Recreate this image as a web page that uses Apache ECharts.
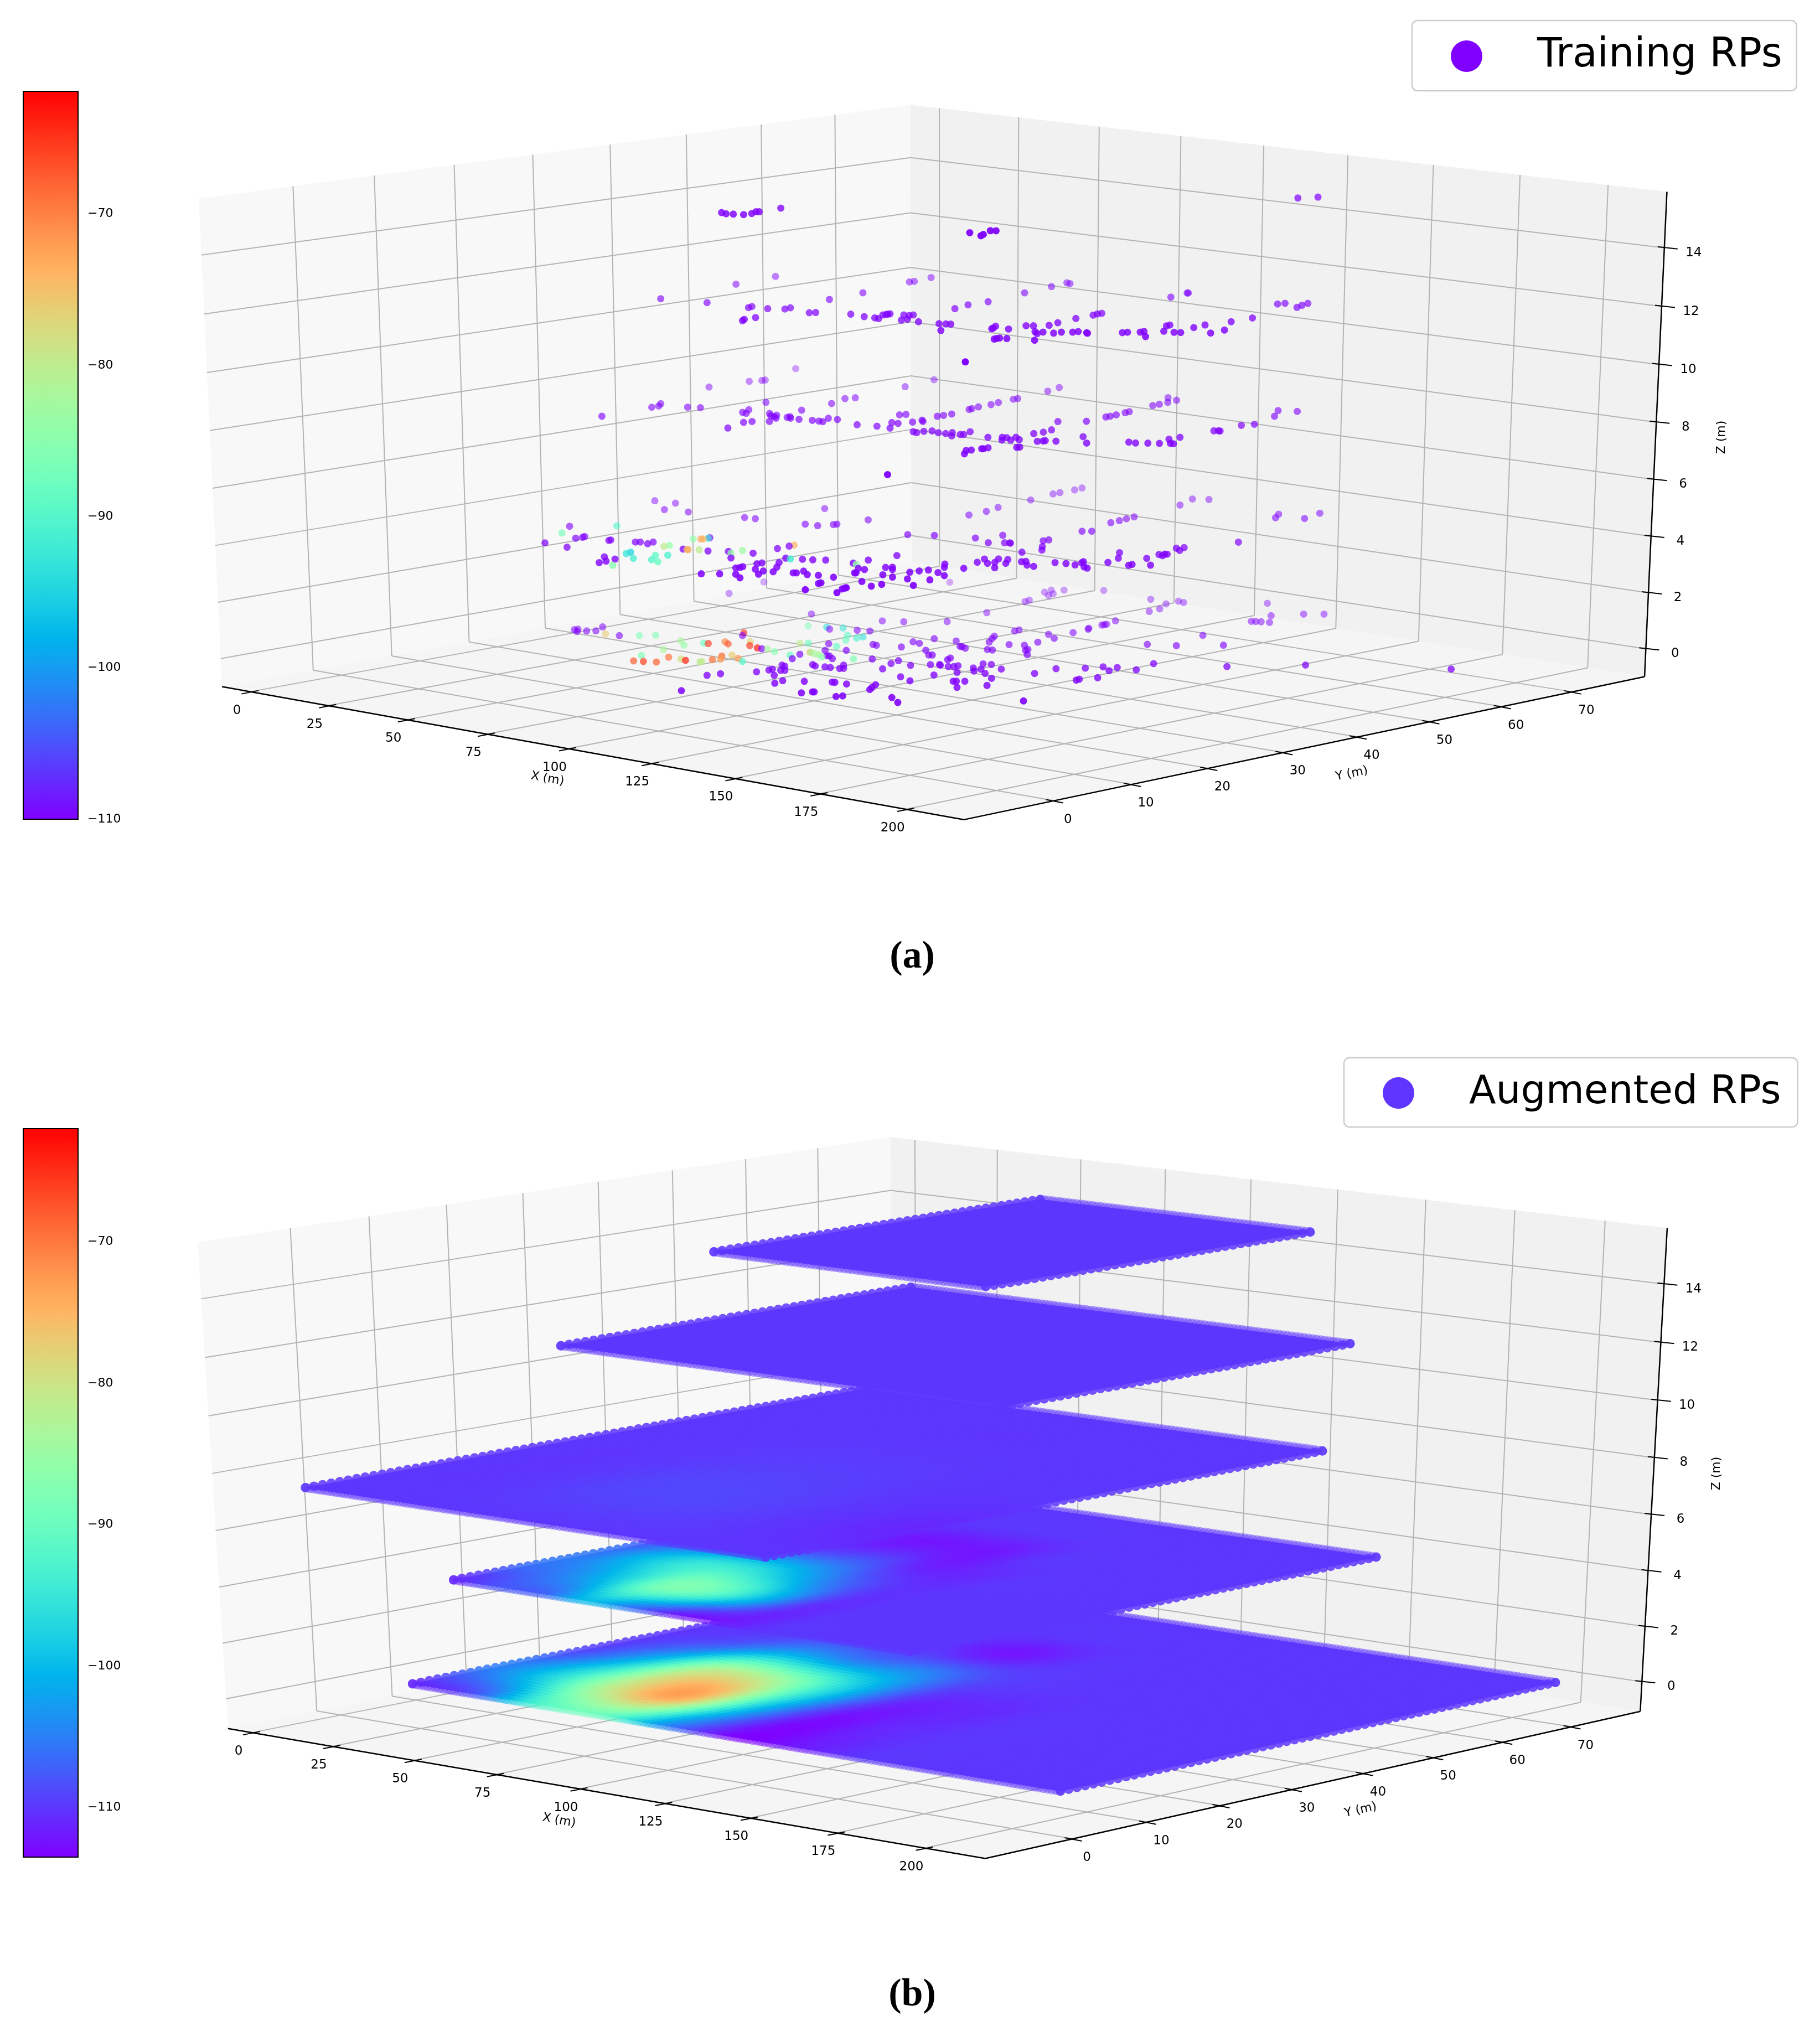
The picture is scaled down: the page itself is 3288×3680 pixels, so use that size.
<!DOCTYPE html>
<html>
<head>
<meta charset="utf-8">
<title>Training and augmented RPs</title>
<script src="https://cdn.jsdelivr.net/npm/echarts@6/dist/echarts.min.js"></script>
<style>
  html, body { margin: 0; background: #fff; }
  #chart { width: 3288px; height: 3680px; }
</style>
</head>
<body>
<div id="chart"></div>
<script>
// Axis ticks (metres)
var xTicks = [0, 25, 50, 75, 100, 125, 150, 175, 200];
var yTicks = [0, 10, 20, 30, 40, 50, 60, 70];
var zTicks = [0, 2, 4, 6, 8, 10, 12, 14];
var colorTicks = [-110, -100, -90, -80, -70];

// Floor heights and footprints of the augmented grid (metres)
var floorHeights = [0, 3.7, 7.4, 11.1, 14.8];
var floorX = [[11.1, 202.9], [17.5, 153.3], [5.0, 141.2], [13.2, 143.3], [52.5, 131.2]];
var floorY = [[5.0, 74.7], [8.3, 73.1], [-5.0, 70.9], [25.4, 73.4], [28.7, 73.3]];

// Training RPs per floor: [X, Y, RSSI]. No third value means -110 dBm
var trainFloor4 = [[52.4,28.8],[54.5,28.5],[56.0,28.8],[58.2,29.2],[58.3,30.2],[57.0,31.3],[57.5,31.5],[56.8,34.6],[114.5,34.2],[119.6,33.4],[118.5,34.2],[115.6,36.4],[116.6,36.7],[129.3,71.5],[131.6,73.2]];
var trainFloor3 = [[18.8,34.7],[30.7,35.8],[15.0,46.2],[12.8,52.4],[42.9,36.1],[42.3,36.8],[47.2,36.8],[50.4,37.7],[50.0,38.6],[58.4,37.5],
  [59.2,38.0],[47.3,44.9],[45.6,50.1],[56.0,29.8],[54.9,30.5],[54.8,32.0],[66.7,39.4],[71.5,39.1],[74.5,39.2],[75.9,39.1],
  [72.8,41.0],[72.8,41.4],[72.7,41.7],[72.7,42.0],[76.2,42.3],[77.6,42.4],[77.7,42.9],[81.2,39.8],[81.2,40.6],[85.7,40.1],
  [41.4,58.2],[41.5,58.8],[40.1,61.7],[91.0,40.5],[92.4,40.8],[93.4,41.0],[98.4,37.5],[77.8,48.4],[75.9,51.0],[75.9,53.7],
  [104.8,41.4],[104.3,41.8],[102.8,42.8],[107.8,42.3],[115.7,36.9],[115.5,37.3],[115.5,37.7],[117.2,37.9],[133.9,25.1],[72.4,60.2],
  [70.1,64.9],[68.6,67.7],[70.0,67.5],[107.2,44.9],[108.5,45.3],[110.5,46.5],[109.3,48.2],[107.8,51.3],[107.2,53.9],[106.7,54.7],
  [106.7,55.3],[114.8,42.7],[117.0,42.0],[116.5,43.0],[119.2,43.2],[119.5,44.1],[121.3,44.8],[121.6,45.4],[124.1,45.4],[124.8,45.2],
  [123.4,38.8],[129.8,47.6],[130.2,48.1],[132.2,48.9],[132.0,49.5],[137.5,47.2],[135.0,50.8],[130.1,53.4],[129.8,54.0],[137.8,50.9],
  [139.1,51.2],[136.2,54.3],[135.4,56.2],[144.4,52.8],[143.7,55.0],[136.4,59.3],[136.0,62.4],[101.1,67.3],[99.5,70.3],[99.6,70.4],
  [125.9,70.6],[126.4,71.4],[132.5,70.2],[131.2,71.5],[130.2,72.8]];
var trainFloor2 = [[21.9,25.5],[20.9,32.4],[20.7,33.4],[18.7,34.5],[26.7,34.7],[29.3,35.3],[9.3,44.8],[10.0,49.9],[11.2,51.1],[11.3,51.5],
  [4.3,58.6],[34.7,41.7],[41.1,35.9],[39.5,37.4],[42.7,35.7],[54.6,28.3],[51.4,31.7],[51.9,32.6],[46.7,37.1],[49.2,36.2],
  [54.7,33.7],[50.7,36.0],[49.6,36.8],[52.5,35.5],[53.6,36.5],[53.3,37.0],[54.9,36.4],[57.5,36.4],[48.7,40.5],[60.7,36.8],
  [62.5,36.9],[63.7,36.9],[61.2,38.7],[46.8,45.3],[64.0,38.7],[44.0,48.3],[44.9,49.3],[72.4,37.7],[77.1,38.3],[81.1,38.3],
  [75.9,40.8],[77.8,40.8],[69.5,44.6],[70.1,45.2],[41.8,57.4],[39.4,62.4],[78.8,42.3],[79.9,43.2],[78.5,43.7],[77.2,46.3],
  [77.3,47.1],[77.3,48.2],[75.6,51.3],[75.3,51.8],[74.6,53.0],[74.4,54.8],[73.5,56.2],[72.7,58.6],[72.7,59.2],[88.4,38.2],
  [89.9,38.0],[89.8,39.0],[90.7,39.7],[93.5,39.3],[95.5,39.4],[95.7,40.2],[98.7,38.8],[98.8,39.9],[99.4,40.1],[97.7,41.7],
  [106.0,40.4],[108.3,41.3],[110.9,40.1],[109.4,41.4],[112.4,40.6],[110.6,42.1],[113.4,41.3],[118.0,32.0],[115.1,33.5],[115.5,34.0],
  [115.9,35.2],[116.2,35.3],[116.0,36.0],[120.3,37.9],[120.5,38.2],[125.1,18.9],[70.3,64.4],[68.5,66.8],[102.2,51.5],[106.6,53.4],
  [105.6,56.5],[105.6,57.1],[105.2,58.1],[104.6,59.6],[104.3,60.3],[102.2,64.5],[102.0,65.5],[97.0,69.0],[101.5,66.9],[100.9,68.4],
  [127.8,70.1],[132.7,67.3],[131.8,70.9],[135.9,61.2],[137.0,62.5],[136.6,57.1],[137.3,57.4],[137.8,57.4],[109.9,44.8],[110.1,46.0],
  [109.2,47.5],[120.9,46.5],[127.5,44.0],[117.9,41.7],[118.5,42.2],[118.5,42.5],[120.8,42.9],[133.4,47.0],[135.4,47.0],[137.5,47.7],
  [139.6,48.3],[137.2,50.7],[141.3,49.0],[142.2,49.0],[137.2,52.2]];
var trainFloor1 = [[33.8,13.0],[27.1,17.9,-87],[21.9,21.0],[41.5,12.7],[34.4,16.7],[34.6,17.5],[34.3,17.9],[41.9,17.9],[41.8,18.2],[29.3,24.1,-90],
  [61.1,8.8],[56.6,11.3],[60.8,9.8],[60.4,11.1],[65.8,8.6,-85],[57.1,13.9,-93],[56.5,14.7,-95],[62.7,12.5,-91],[47.8,18.9],[48.6,19.2],
  [51.4,19.0],[50.7,20.0],[66.9,13.1,-90],[63.5,15.0,-89],[69.8,12.7,-88],[65.4,15.8,-91],[56.5,19.0,-80],[56.5,19.7,-84],[62.2,19.1],[63.5,19.2,-73],
  [63.2,19.2,-76],[54.3,23.7,-84],[65.5,19.8,-80],[55.7,24.1,-73],[56.0,24.3,-74],[55.9,25.2],[56.1,24.9,-92],[68.0,19.9],[71.7,21.0],[73.7,20.5,-84],
  [73.2,22.2,-83],[78.2,18.6],[77.4,21.8],[42.5,35.4],[45.4,35.6],[58.9,36.5],[62.3,36.7],[47.2,44.1],[63.9,38.1],[64.1,38.5],
  [65.2,42.2],[11.1,36.6],[21.4,33.6],[17.0,36.9],[27.8,34.1],[85.5,38.7],[77.1,25.1],[76.7,26.8],[76.6,27.5,-74],[87.2,21.9],
  [88.6,21.9,-92],[90.9,22.5],[93.1,22.9],[95.4,23.6],[90.1,19.8],[93.9,17.9],[97.5,15.9],[87.6,18.0],[87.7,18.6],[92.3,15.8],
  [95.2,15.6],[97.3,14.1],[88.0,16.0],[88.3,15.5],[88.0,15.1],[93.7,12.7],[97.6,11.6],[87.7,10.8],[90.7,11.9],[101.7,16.7],
  [102.2,16.9],[101.8,18.0],[105.5,16.9],[107.9,17.3],[112.0,17.5],[115.2,14.2],[115.0,14.6],[118.5,11.1],[126.1,11.9],[123.7,13.6],
  [123.4,14.1],[123.3,14.3],[102.6,24.1],[104.2,23.8,-84],[102.3,26.2],[108.1,22.4],[110.2,22.3],[111.8,20.5],[111.6,20.4],[102.9,29.7],
  [111.7,24.4],[112.6,24.9],[114.7,24.0],[117.8,21.4],[121.4,21.1],[119.9,24.0],[125.4,21.3],[120.3,17.6],[125.9,16.4],[126.0,17.7],
  [132.0,19.2],[90.7,40.0],[77.4,50.5],[76.9,53.1],[75.1,55.5],[73.5,60.7],[71.5,64.7],[71.4,65.7],[71.3,67.8],[70.7,69.1],
  [99.8,41.5],[106.2,40.4],[101.8,44.3],[108.9,41.4],[109.8,41.7],[110.2,41.6],[120.2,38.7],[113.4,44.6],[113.5,45.3],[118.5,42.2],
  [121.5,40.8],[111.1,50.9],[112.7,51.5],[108.1,56.2],[107.6,57.6],[107.1,58.8],[106.6,60.1],[103.3,68.0],[99.7,71.4],[103.0,72.2],
  [128.2,70.3],[130.9,68.6],[146.6,56.1],[141.8,49.8],[144.3,49.1],[142.6,50.5],[136.5,44.5],[141.2,42.2],[145.9,43.9],[144.5,46.2],
  [146.2,45.9],[145.1,46.7],[145.6,46.8],[143.2,39.9],[149.1,40.0],[148.8,40.6],[152.5,41.4],[120.2,25.1],[120.9,26.0],[124.7,25.6],
  [128.4,24.8],[129.8,22.3],[118.3,29.3],[121.1,28.0],[125.1,28.8],[121.9,32.0],[120.2,33.7],[124.5,32.2],[124.9,33.0],[122.4,34.6],
  [124.5,34.9],[127.5,33.3],[129.6,30.9],[128.6,34.9],[129.0,35.3],[132.5,33.9],[134.7,33.8],[134.8,36.6],[137.4,36.9],[140.1,36.9],
  [139.2,38.2],[138.6,38.7],[143.2,36.7],[144.8,36.4],[136.4,70.1],[134.2,73.3]];
var trainFloor0 = [[10.1,51.5],[15.0,44.7],[47.9,41.9],[66.0,43.7],[70.4,44.7],[22.6,21.0],[22.8,21.4],[24.7,20.5],[25.8,21.3],[27.3,21.9],
  [24.8,23.8],[31.6,21.4,-76],[35.5,21.6],[38.7,22.9,-86],[41.2,24.0,-86],[50.1,23.6,-82],[54.7,22.1,-84],[55.2,19.2,-82],[56.8,15.7,-86],[60.4,13.2,-68],
  [62.5,13.6,-66],[65.1,14.2,-68],[62.9,16.7,-69],[66.5,16.8,-78],[68.4,16.6,-64],[72.2,16.9,-80],[72.0,17.2,-80],[72.2,18.5,-69],[73.1,19.2,-72],[70.6,20.4,-68],
  [71.4,21.4,-76],[75.2,20.6,-72],[78.7,19.7,-90],[56.1,24.1,-88],[57.3,24.2,-65],[58.5,25.9,-70],[60.9,25.3,-67],[53.7,30.4,-63],[55.9,29.3],[62.6,27.5,-77],
  [66.0,26.0,-65],[69.3,25.6,-63],[70.7,25.6],[71.8,25.9,-82],[75.4,25.3,-85],[80.9,25.0,-88],[81.8,25.9],[84.4,23.8],[72.2,30.0,-80],[73.4,30.6,-88],
  [58.1,37.1,-86],[62.3,37.8,-94],[64.6,37.2],[65.8,38.5,-93],[70.2,38.5],[73.0,39.0],[73.0,36.0,-89],[77.1,34.0,-88],[77.0,35.5,-91],[77.1,36.3,-93],
  [77.4,31.6],[81.0,31.1,-89],[81.7,27.3,-73],[81.9,27.3,-82],[83.8,27.0,-82],[85.3,26.9,-82],[87.6,26.3,-85],[82.6,28.9],[86.1,30.2],[87.6,27.0],
  [88.1,27.1],[90.9,26.3],[94.6,27.5,-86],[85.3,34.1],[86.6,34.0],[92.2,34.9],[89.6,37.6],[97.8,28.6],[84.9,12.5],[85.7,13.9],
  [93.8,5.5],[89.9,16.8],[90.4,18.2],[90.3,18.7],[95.8,16.6],[88.3,20.8],[89.6,20.6],[92.6,18.8],[93.2,19.1],[102.6,13.8],
  [101.7,15.2],[105.7,16.3],[114.9,12.0],[115.9,13.0],[116.2,13.1],[92.8,22.9],[94.5,22.5],[96.8,22.8],[98.2,22.9],[100.6,23.1],
  [98.3,24.6],[101.1,23.4],[110.9,17.7],[111.5,17.8],[114.8,17.9],[123.5,12.8],[124.1,13.4],[123.2,17.3],[121.8,18.2],[120.1,19.4],
  [107.9,25.6],[104.7,28.1],[103.5,29.6],[109.5,28.6],[117.5,23.8],[122.4,22.9],[133.3,15.8],[138.3,14.4],[42.1,63.4],[76.2,53.5],
  [77.5,47.5],[72.6,60.4],[72.1,61.2],[67.5,65.4],[66.7,66.7],[71.2,64.3],[70.4,65.3],[68.9,67.5],[76.0,69.9],[91.9,69.3],
  [98.6,68.4],[101.9,66.0],[102.4,64.3],[98.3,70.3],[100.3,70.1],[105.0,58.4],[106.5,56.5],[106.4,56.2],[106.4,55.9],[107.0,53.8],
  [107.7,53.4],[108.2,51.1],[105.6,48.9],[110.0,47.7],[96.8,48.8],[97.0,48.1],[90.4,40.1],[92.0,37.4],[96.0,40.6],[98.2,44.8],
  [99.8,43.8],[102.5,42.2],[101.3,38.8],[101.9,38.8],[103.8,38.4],[99.0,35.2],[103.6,33.6],[104.2,33.8],[109.7,33.8],[110.7,33.0],
  [108.5,39.3],[109.8,39.4],[107.9,42.5],[111.0,43.2],[110.6,45.2],[115.2,41.8],[115.6,41.3],[119.5,39.8],[112.1,30.1],[113.5,30.7],
  [114.2,30.5],[116.6,30.5],[117.6,30.8],[117.5,31.4],[121.9,31.5],[124.6,30.4],[124.2,31.5],[120.1,33.6],[121.9,33.9],[127.4,32.8],
  [122.9,28.9],[128.4,30.2],[121.4,26.5],[133.5,28.8],[129.7,25.4],[130.2,25.6],[131.6,26.1],[135.4,23.4],[138.7,25.9],[136.5,33.2],
  [136.0,36.3],[140.3,38.3],[142.1,39.9],[146.3,38.8],[145.0,40.5],[150.0,40.8],[147.7,44.2],[148.7,33.3],[148.5,33.8],[150.2,35.5],
  [162.1,47.6],[157.2,22.5],[130.5,51.2],[136.4,52.5],[132.0,58.2],[143.8,55.6],[128.1,66.8],[129.0,67.0],[130.2,67.2],[132.1,67.5],
  [126.6,70.3],[115.2,75.1],[130.7,73.0],[134.1,74.3],[173.7,53.0],[200.7,60.4]];
var trainFloors = [trainFloor0, trainFloor1, trainFloor2, trainFloor3, trainFloor4];

// Augmented RSSI, one row per Y step, one column per X step
var augFloor0 = [
  [-111, -108, -93, -90, -104, -113, -112, -110, -110, -110, -110],
  [-105, -96, -80, -74, -98, -112, -111, -110, -110, -110, -110],
  [-109, -100, -82, -83, -97, -110, -111, -110, -110, -110, -110],
  [-110, -108, -102, -104, -104, -109, -110, -110, -110, -110, -110],
  [-110, -110, -110, -110, -112, -110, -110, -110, -110, -110, -110],
  [-110, -110, -110, -110, -110, -110, -110, -110, -110, -110, -110],
  [-110, -110, -110, -110, -110, -110, -110, -110, -110, -110, -110]
];
var augFloor1 = [
  [-111, -108, -107, -100, -106, -112, -112, -110, -110, -110, -110],
  [-106, -104, -98, -88, -90, -100, -110, -110, -110, -110, -110],
  [-106, -100, -95, -95, -100, -106, -110, -110, -110, -110, -110],
  [-110, -110, -109, -108, -108, -111, -111, -110, -110, -110, -110],
  [-110, -110, -110, -112, -112, -112, -110, -110, -110, -110, -110],
  [-110, -110, -110, -110, -110, -110, -110, -110, -110, -110, -110],
  [-110, -110, -110, -110, -110, -110, -110, -110, -110, -110, -110]
];
var augFloor2 = [
  [-110, -110, -110, -110, -110, -110],
  [-110, -110, -109, -109, -110, -111],
  [-110, -110, -109.5, -109.5, -110, -110],
  [-110, -110, -110, -110, -110, -110],
  [-110, -110, -110, -110, -110, -110]
];
var augFloor3 = [[-110, -110], [-110, -110]];
var augFloor4 = [[-110, -110], [-110, -110]];
var augFloors = [augFloor0, augFloor1, augFloor2, augFloor3, augFloor4];

// Colour ranges of the two colour bars (dBm)
var rangeA = [-110, -61.9];
var rangeB = [-113.5, -62];

// The two 3D views: camera matrix (metres to picture) and axis limits
var viewA = {
  camera: [[5.3904201, 14.834724, -3.1399323, 614.81762], [0.61864193, -1.6239763, -52.592004, 1169.3036], [-0.00029815999, 0.0008077789, -0.0018384073, 1]],
  x: [-9.2, 216.5], y: [-11.4, 80.4], z: [-1, 15.9],
  xName: [989, 1407, -10], yName: [2442, 1398, 11.7], zName: [3110, 790, 90]
};
var viewB = {
  camera: [[5.6110442, 14.184836, -4.0320475, 612.57722], [0.17428945, -0.53472783, -56.668262, 3044.8467], [-0.00025850316, 0.00070584838, -0.0022933426, 1]],
  x: [-7.5, 217], y: [-11.6, 80.2], z: [-1.08, 15.9],
  xName: [1010, 3289, -10], yName: [2458, 3270, 12.8], zName: [3101, 2662, 90]
};

// Project a point in metres to the hidden picture axes
function project(view, X, Y, Z) {
  var P = view.camera;
  var w = P[2][0] * X + P[2][1] * Y + P[2][2] * Z + P[2][3];
  return [
    (P[0][0] * X + P[0][1] * Y + P[0][2] * Z + P[0][3]) / w,
    (P[1][0] * X + P[1][1] * Y + P[1][2] * Z + P[1][3]) / w,
    w
  ];
}

// matplotlib rainbow colormap
function rainbow(t) {
  t = Math.max(0, Math.min(1, t));
  var r = Math.min(1, Math.abs(2 * t - 0.5));
  var g = Math.sin(Math.PI * t);
  var b = Math.cos(Math.PI * t / 2);
  return [Math.round(r * 255), Math.round(g * 255), Math.round(b * 255)];
}
function rgba(c, a) {
  return 'rgba(' + c[0] + ',' + c[1] + ',' + c[2] + ',' + a + ')';
}
function rssiColor(v, range) {
  return rainbow((v - range[0]) / (range[1] - range[0]));
}

// Fainter with distance, like mplot3d depth shading
function depthAlpha(w) {
  return Math.min(1, 0.3 + 0.7 * (1.04 - w) / 0.081);
}

// Box, grid, axes, ticks and labels of one 3D view
function renderFrame(view) {
  return function (params, api) {
    var kids = [];
    function pt(X, Y, Z) {
      var p = project(view, X, Y, Z);
      return api.coord([p[0], p[1]]);
    }
    function pane(a, b, c, d, fill) {
      kids.push({ type: 'polygon', shape: { points: [a, b, c, d] }, style: { fill: fill } });
    }
    function seg(a, b, color, width) {
      kids.push({ type: 'line', shape: { x1: a[0], y1: a[1], x2: b[0], y2: b[1] }, style: { stroke: color, lineWidth: width } });
    }
    function label(text, at, rot, size) {
      kids.push({
        type: 'text', x: at[0], y: at[1], rotation: (rot || 0) * Math.PI / 180,
        style: { text: text, x: 0, y: 0, fill: '#000', font: size + 'px "DejaVu Sans"', textAlign: 'center', textVerticalAlign: 'middle', align: 'center', verticalAlign: 'middle' }
      });
    }
    var x0 = view.x[0], x1 = view.x[1], y0 = view.y[0], y1 = view.y[1], z0 = view.z[0], z1 = view.z[1];
    pane(pt(x0, y0, z0), pt(x0, y1, z0), pt(x0, y1, z1), pt(x0, y0, z1), '#f8f8f8');
    pane(pt(x0, y1, z0), pt(x1, y1, z0), pt(x1, y1, z1), pt(x0, y1, z1), '#f1f1f1');
    pane(pt(x0, y0, z0), pt(x1, y0, z0), pt(x1, y1, z0), pt(x0, y1, z0), '#f5f5f5');

    var gridColor = '#b4b4b4';
    xTicks.forEach(function (x) {
      seg(pt(x, y0, z0), pt(x, y1, z0), gridColor, 2);
      seg(pt(x, y1, z0), pt(x, y1, z1), gridColor, 2);
    });
    yTicks.forEach(function (y) {
      seg(pt(x0, y, z0), pt(x1, y, z0), gridColor, 2);
      seg(pt(x0, y, z0), pt(x0, y, z1), gridColor, 2);
    });
    zTicks.forEach(function (z) {
      seg(pt(x0, y0, z), pt(x0, y1, z), gridColor, 2);
      seg(pt(x0, y1, z), pt(x1, y1, z), gridColor, 2);
    });

    seg(pt(x0, y0, z0), pt(x1, y0, z0), '#000', 2.5);
    seg(pt(x1, y0, z0), pt(x1, y1, z0), '#000', 2.5);
    seg(pt(x1, y1, z0), pt(x1, y1, z1), '#000', 2.5);

    xTicks.forEach(function (x) {
      var p = pt(x, y0, z0);
      seg([p[0] - 16, p[1] + 4], [p[0] + 15, p[1] - 2], '#000', 2);
      label(String(x), [p[0] - 24, p[1] + 34], 0, 23);
    });
    yTicks.forEach(function (y) {
      var p = pt(x1, y, z0);
      seg([p[0] - 15, p[1] - 2], [p[0] + 16, p[1] + 4], '#000', 2);
      label(String(y), [p[0] + 25, p[1] + 34], 0, 23);
    });
    zTicks.forEach(function (z) {
      var p = pt(x1, y1, z);
      seg([p[0] - 12, p[1] - 2], [p[0] + 24, p[1] + 2], '#000', 2);
      label(String(z), [p[0] + 53, p[1] + 9], 0, 23);
    });

    label('X (m)', api.coord(view.xName), view.xName[2], 22);
    label('Y (m)', api.coord(view.yName), view.yName[2], 22);
    label('Z (m)', api.coord(view.zName), view.zName[2], 22);
    return { type: 'group', children: kids };
  };
}

// Smooth lookup in a floor's RSSI table, s and t from 0 to 1
function sampleField(table, s, t) {
  function cubic(a, b, c, d, u) {
    return b + 0.5 * u * (c - a + u * (2 * a - 5 * b + 4 * c - d + u * (3 * (b - c) + d - a)));
  }
  var rows = table.length, cols = table[0].length;
  var fx = s * (cols - 1), fy = t * (rows - 1);
  var ix = Math.min(cols - 2, Math.floor(fx)), iy = Math.min(rows - 2, Math.floor(fy));
  var u = fx - ix, v = fy - iy, col = [];
  for (var k = -1; k <= 2; k++) {
    var r = table[Math.max(0, Math.min(rows - 1, iy + k))];
    col.push(cubic(r[Math.max(0, ix - 1)], r[ix], r[ix + 1], r[Math.min(cols - 1, ix + 2)], u));
  }
  return cubic(col[0], col[1], col[2], col[3], v);
}

// One floor of the augmented grid: shaded sheet plus a rim of dots
function renderFloor(params, api) {
  var idx = api.value(0);
  var table = augFloors[idx], z = floorHeights[idx];
  var xr = floorX[idx], yr = floorY[idx];
  var kids = [];
  function pt(s, t) {
    var p = project(viewB, xr[0] + (xr[1] - xr[0]) * s, yr[0] + (yr[1] - yr[0]) * t, z);
    return api.coord([p[0], p[1]]);
  }
  function dot(s, t, alpha) {
    var p = pt(s, t);
    var c = rssiColor(sampleField(table, s, t), rangeB);
    kids.push({ type: 'circle', shape: { cx: p[0], cy: p[1], r: 8.5 }, style: { fill: rgba(c, alpha) } });
  }
  var nEdgeX = Math.round((xr[1] - xr[0]) / 1.2), nEdgeY = Math.round((yr[1] - yr[0]) / 1.1);
  for (var a = 0; a <= nEdgeX; a++) { dot(a / nEdgeX, 0, 0.45); dot(a / nEdgeX, 1, 0.45); }
  for (var b = 0; b <= nEdgeY; b++) { dot(0, b / nEdgeY, 0.85); dot(1, b / nEdgeY, 0.85); }
  var nx = table[0].length > 2 ? 90 : 1, ny = table[0].length > 2 ? 60 : 1;
  for (var i = 0; i < nx; i++) {
    for (var j = 0; j < ny; j++) {
      var c = rssiColor(sampleField(table, (i + 0.5) / nx, (j + 0.5) / ny), rangeB);
      var fill = rgba(c, 1);
      kids.push({
        type: 'polygon',
        shape: { points: [pt(i / nx, j / ny), pt((i + 1) / nx, j / ny), pt((i + 1) / nx, (j + 1) / ny), pt(i / nx, (j + 1) / ny)] },
        style: { fill: fill, stroke: fill, lineWidth: 1 }
      });
    }
  }
  return { type: 'group', children: kids };
}

// Colour bar body with its gradient
function renderBar(range) {
  var stops = [];
  for (var i = 0; i <= 32; i++) {
    stops.push({ offset: i / 32, color: rgba(rainbow(i / 32), 1) });
  }
  return function (params, api) {
    var a = api.coord([0, range[1]]), b = api.coord([1, range[0]]);
    return {
      type: 'rect',
      shape: { x: a[0], y: a[1], width: b[0] - a[0], height: b[1] - a[1] },
      style: { fill: new echarts.graphic.LinearGradient(0, 1, 0, 0, stops), stroke: '#000', lineWidth: 2 }
    };
  };
}

// Flatten the training RPs, far ones first so near ones sit on top
var trainData = [];
trainFloors.forEach(function (pts, f) {
  pts.forEach(function (p) {
    var q = project(viewA, p[0], p[1], floorHeights[f]);
    var rssi = p.length > 2 ? p[2] : -110;
    trainData.push([q[0], q[1], rssi, depthAlpha(q[2]), q[2]]);
  });
});
trainData.sort(function (a, b) { return b[4] - a[4]; });

function colorAxis(gridIndex, range) {
  return {
    gridIndex: gridIndex, type: 'value', position: 'right', min: range[0], max: range[1],
    splitLine: { show: false },
    axisLine: { show: false },
    axisTick: { show: true, length: 9, customValues: colorTicks, lineStyle: { color: '#000', width: 2 } },
    axisLabel: {
      show: true, margin: 17, customValues: colorTicks, color: '#000', fontFamily: 'DejaVu Sans', fontSize: 22,
      formatter: function (v) { return String(v).replace('-', '\u2212'); }
    }
  };
}
function legendBox(name, color, left, top, fontSize, rightPad) {
  return {
    left: left, top: top, orient: 'horizontal', selectedMode: false,
    padding: [28, rightPad, 26, 70], backgroundColor: '#fff',
    borderColor: '#ccc', borderWidth: 2.5, borderRadius: 10,
    itemWidth: 57, itemHeight: 57,
    textStyle: { fontFamily: 'DejaVu Sans', fontSize: fontSize, color: '#000', padding: [0, 0, 0, 94] },
    data: [{ name: name, icon: 'circle', itemStyle: { color: color, opacity: 1 } }]
  };
}
function captionText(text, top) {
  return {
    text: text, left: 1643, top: top, textAlign: 'center',
    textStyle: { fontFamily: 'Liberation Serif', fontWeight: 'bold', fontSize: 70, color: '#000' }
  };
}

var myChart = echarts.init(document.getElementById('chart'));
myChart.setOption({
  animation: false,
  backgroundColor: '#fff',
  title: [captionText('(a)', 1690), captionText('(b)', 3565)],
  legend: [
    legendBox('Training RPs', '#8000ff', 2551, 37, 73, 26),
    legendBox('Augmented RPs', '#5f35ff', 2428, 1911, 71, 30)
  ],
  grid: [
    { left: 0, top: 0, width: 3288, height: 1840 },
    { left: 0, top: 1840, width: 3288, height: 1840 },
    { left: 42, top: 165, width: 99, height: 1315 },
    { left: 42, top: 2039, width: 99, height: 1316 }
  ],
  xAxis: [
    { gridIndex: 0, type: 'value', min: 0, max: 3288, show: false },
    { gridIndex: 1, type: 'value', min: 0, max: 3288, show: false },
    { gridIndex: 2, type: 'value', min: 0, max: 1, show: false },
    { gridIndex: 3, type: 'value', min: 0, max: 1, show: false }
  ],
  yAxis: [
    { gridIndex: 0, type: 'value', min: 0, max: 1840, inverse: true, show: false },
    { gridIndex: 1, type: 'value', min: 1840, max: 3680, inverse: true, show: false },
    colorAxis(2, rangeA),
    colorAxis(3, rangeB)
  ],
  series: [
    { type: 'custom', xAxisIndex: 0, yAxisIndex: 0, silent: true, clip: false, data: [[0, 0]], renderItem: renderFrame(viewA) },
    {
      name: 'Training RPs', type: 'scatter', xAxisIndex: 0, yAxisIndex: 0, silent: true, clip: false,
      symbol: 'circle', symbolSize: 13, data: trainData,
      itemStyle: {
        opacity: 1,
        color: function (p) { return rgba(rssiColor(p.data[2], rangeA), p.data[3]); }
      }
    },
    { type: 'custom', xAxisIndex: 1, yAxisIndex: 1, silent: true, clip: false, data: [[0, 0]], renderItem: renderFrame(viewB) },
    {
      name: 'Augmented RPs', type: 'custom', xAxisIndex: 1, yAxisIndex: 1, silent: true, clip: false,
      data: [[0, 0], [1, 0], [2, 0], [3, 0], [4, 0]], renderItem: renderFloor
    },
    { type: 'custom', xAxisIndex: 2, yAxisIndex: 2, silent: true, data: [[0, 0]], renderItem: renderBar(rangeA) },
    { type: 'custom', xAxisIndex: 3, yAxisIndex: 3, silent: true, data: [[0, 0]], renderItem: renderBar(rangeB) }
  ]
});
</script>
</body>
</html>
